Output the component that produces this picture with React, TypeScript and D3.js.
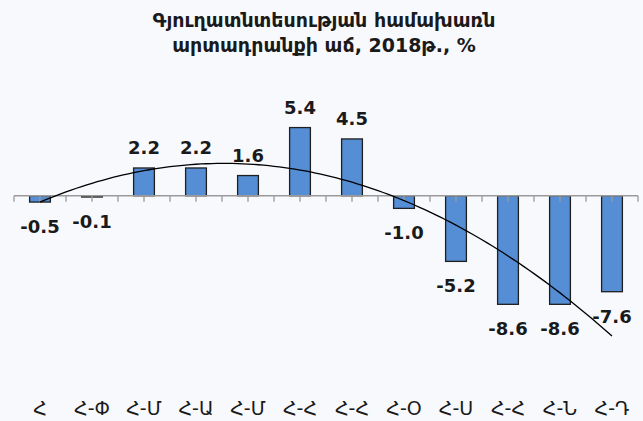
import * as d3 from 'd3'
import * as React from 'react'

// Month abbreviations (cumulative periods) and growth values, %
const months: string[] = ['Հ', 'Հ-Փ', 'Հ-Մ', 'Հ-Ա', 'Հ-Մ', 'Հ-Հ', 'Հ-Հ', 'Հ-Օ', 'Հ-Ս', 'Հ-Հ', 'Հ-Ն', 'Հ-Դ']
const growth: number[] = [-0.5, -0.1, 2.2, 2.2, 1.6, 5.4, 4.5, -1.0, -5.2, -8.6, -8.6, -7.6]
const titleLines: string[] = ['Գյուղատնտեսության համախառն', 'արտադրանքի աճ, 2018թ., %']

const W = 643
const H = 421

// quadratic least squares trendline, like the spreadsheet one
const polyFit2 = (ys: number[]) => {
  const n = ys.length
  const xs = ys.map((_, i) => i + 1)
  const s = (f: (x: number, y: number) => number) => d3.sum(xs, (x, i) => f(x, ys[i]))
  const m = [
    [n, s(x => x), s(x => x * x)],
    [s(x => x), s(x => x * x), s(x => x ** 3)],
    [s(x => x * x), s(x => x ** 3), s(x => x ** 4)],
  ]
  const r = [s((x, y) => y), s((x, y) => x * y), s((x, y) => x * x * y)]
  // gaussian elimination
  const a = m.map((row, i) => [...row, r[i]])
  for (let i = 0; i < 3; i++) {
    for (let k = i + 1; k < 3; k++) {
      const f = a[k][i] / a[i][i]
      for (let j = i; j < 4; j++) a[k][j] -= f * a[i][j]
    }
  }
  const c = [0, 0, 0]
  for (let i = 2; i >= 0; i--) {
    let v = a[i][3]
    for (let j = i + 1; j < 3; j++) v -= a[i][j] * c[j]
    c[i] = v / a[i][i]
  }
  return (x: number) => c[0] + c[1] * x + c[2] * x * x
}

export default function App() {
  const x = d3.scaleBand<string>()
    .domain(months.map((_, i) => String(i)))
    .range([14, 638])
    .paddingInner(0.6)
    .paddingOuter(0.3)
  const y = d3.scaleLinear().domain([-10, 6]).range([322, 120])
  const step = x.step()
  const cx = (i: number) => x(String(i))! + x.bandwidth() / 2

  const fit = polyFit2(growth)
  const trendPts: [number, number][] = d3.range(0, growth.length - 1 + 0.001, 0.1)
    .map(t => [cx(0) + t * step, y(fit(t + 1))])
  const trend = d3.line().curve(d3.curveLinear)(trendPts)!

  const tickXs = d3.range(0, months.length * 2 + 1).map(k => 14 + k * step / 2)
  const font = '"DejaVu Sans", sans-serif'

  return (
    <div style={{ position: 'absolute', left: 0, top: 0 }}>
      <svg width={W} height={H} style={{ display: 'block', background: '#F8F9FD' }}>
        <g fontFamily={font} fontWeight="bold" fontSize={19} fill="#1a1a1a" textAnchor="middle">
          {titleLines.map((t, i) => (
            <text key={i} x={324} y={27 + i * 25}>{t}</text>
          ))}
        </g>

        {/* bars */}
        {growth.map((v, i) => (
          <rect key={i}
            x={x(String(i))}
            y={Math.min(y(v), y(0))}
            width={x.bandwidth()}
            height={Math.abs(y(v) - y(0))}
            fill="#558ED5"
            stroke="#1f1f1f"
            strokeWidth={1.3} />
        ))}

        {/* axis */}
        <line x1={14} x2={638} y1={y(0)} y2={y(0)} stroke="#9a9a9a" strokeWidth={1.3} />
        {tickXs.map((tx, i) => (
          <line key={i} x1={tx} x2={tx} y1={y(0)} y2={y(0) + 6} stroke="#9a9a9a" strokeWidth={1.3} />
        ))}

        <path d={trend} fill="none" stroke="#000" strokeWidth={1.3} />

        {/* value labels */}
        <g fontFamily={font} fontWeight="bold" fontSize={18} fill="#1a1a1a" textAnchor="middle">
          {growth.map((v, i) => (
            <text key={i} x={cx(i)} y={v >= 0 ? y(v) - 14 : y(v) + 31}>{v.toFixed(1)}</text>
          ))}
        </g>

        {/* category labels */}
        <g fontFamily={font} fontSize={19} fill="#1a1a1a" textAnchor="middle">
          {months.map((m, i) => (
            <text key={i} x={cx(i)} y={415}>{m}</text>
          ))}
        </g>
      </svg>
    </div>
  )
}
